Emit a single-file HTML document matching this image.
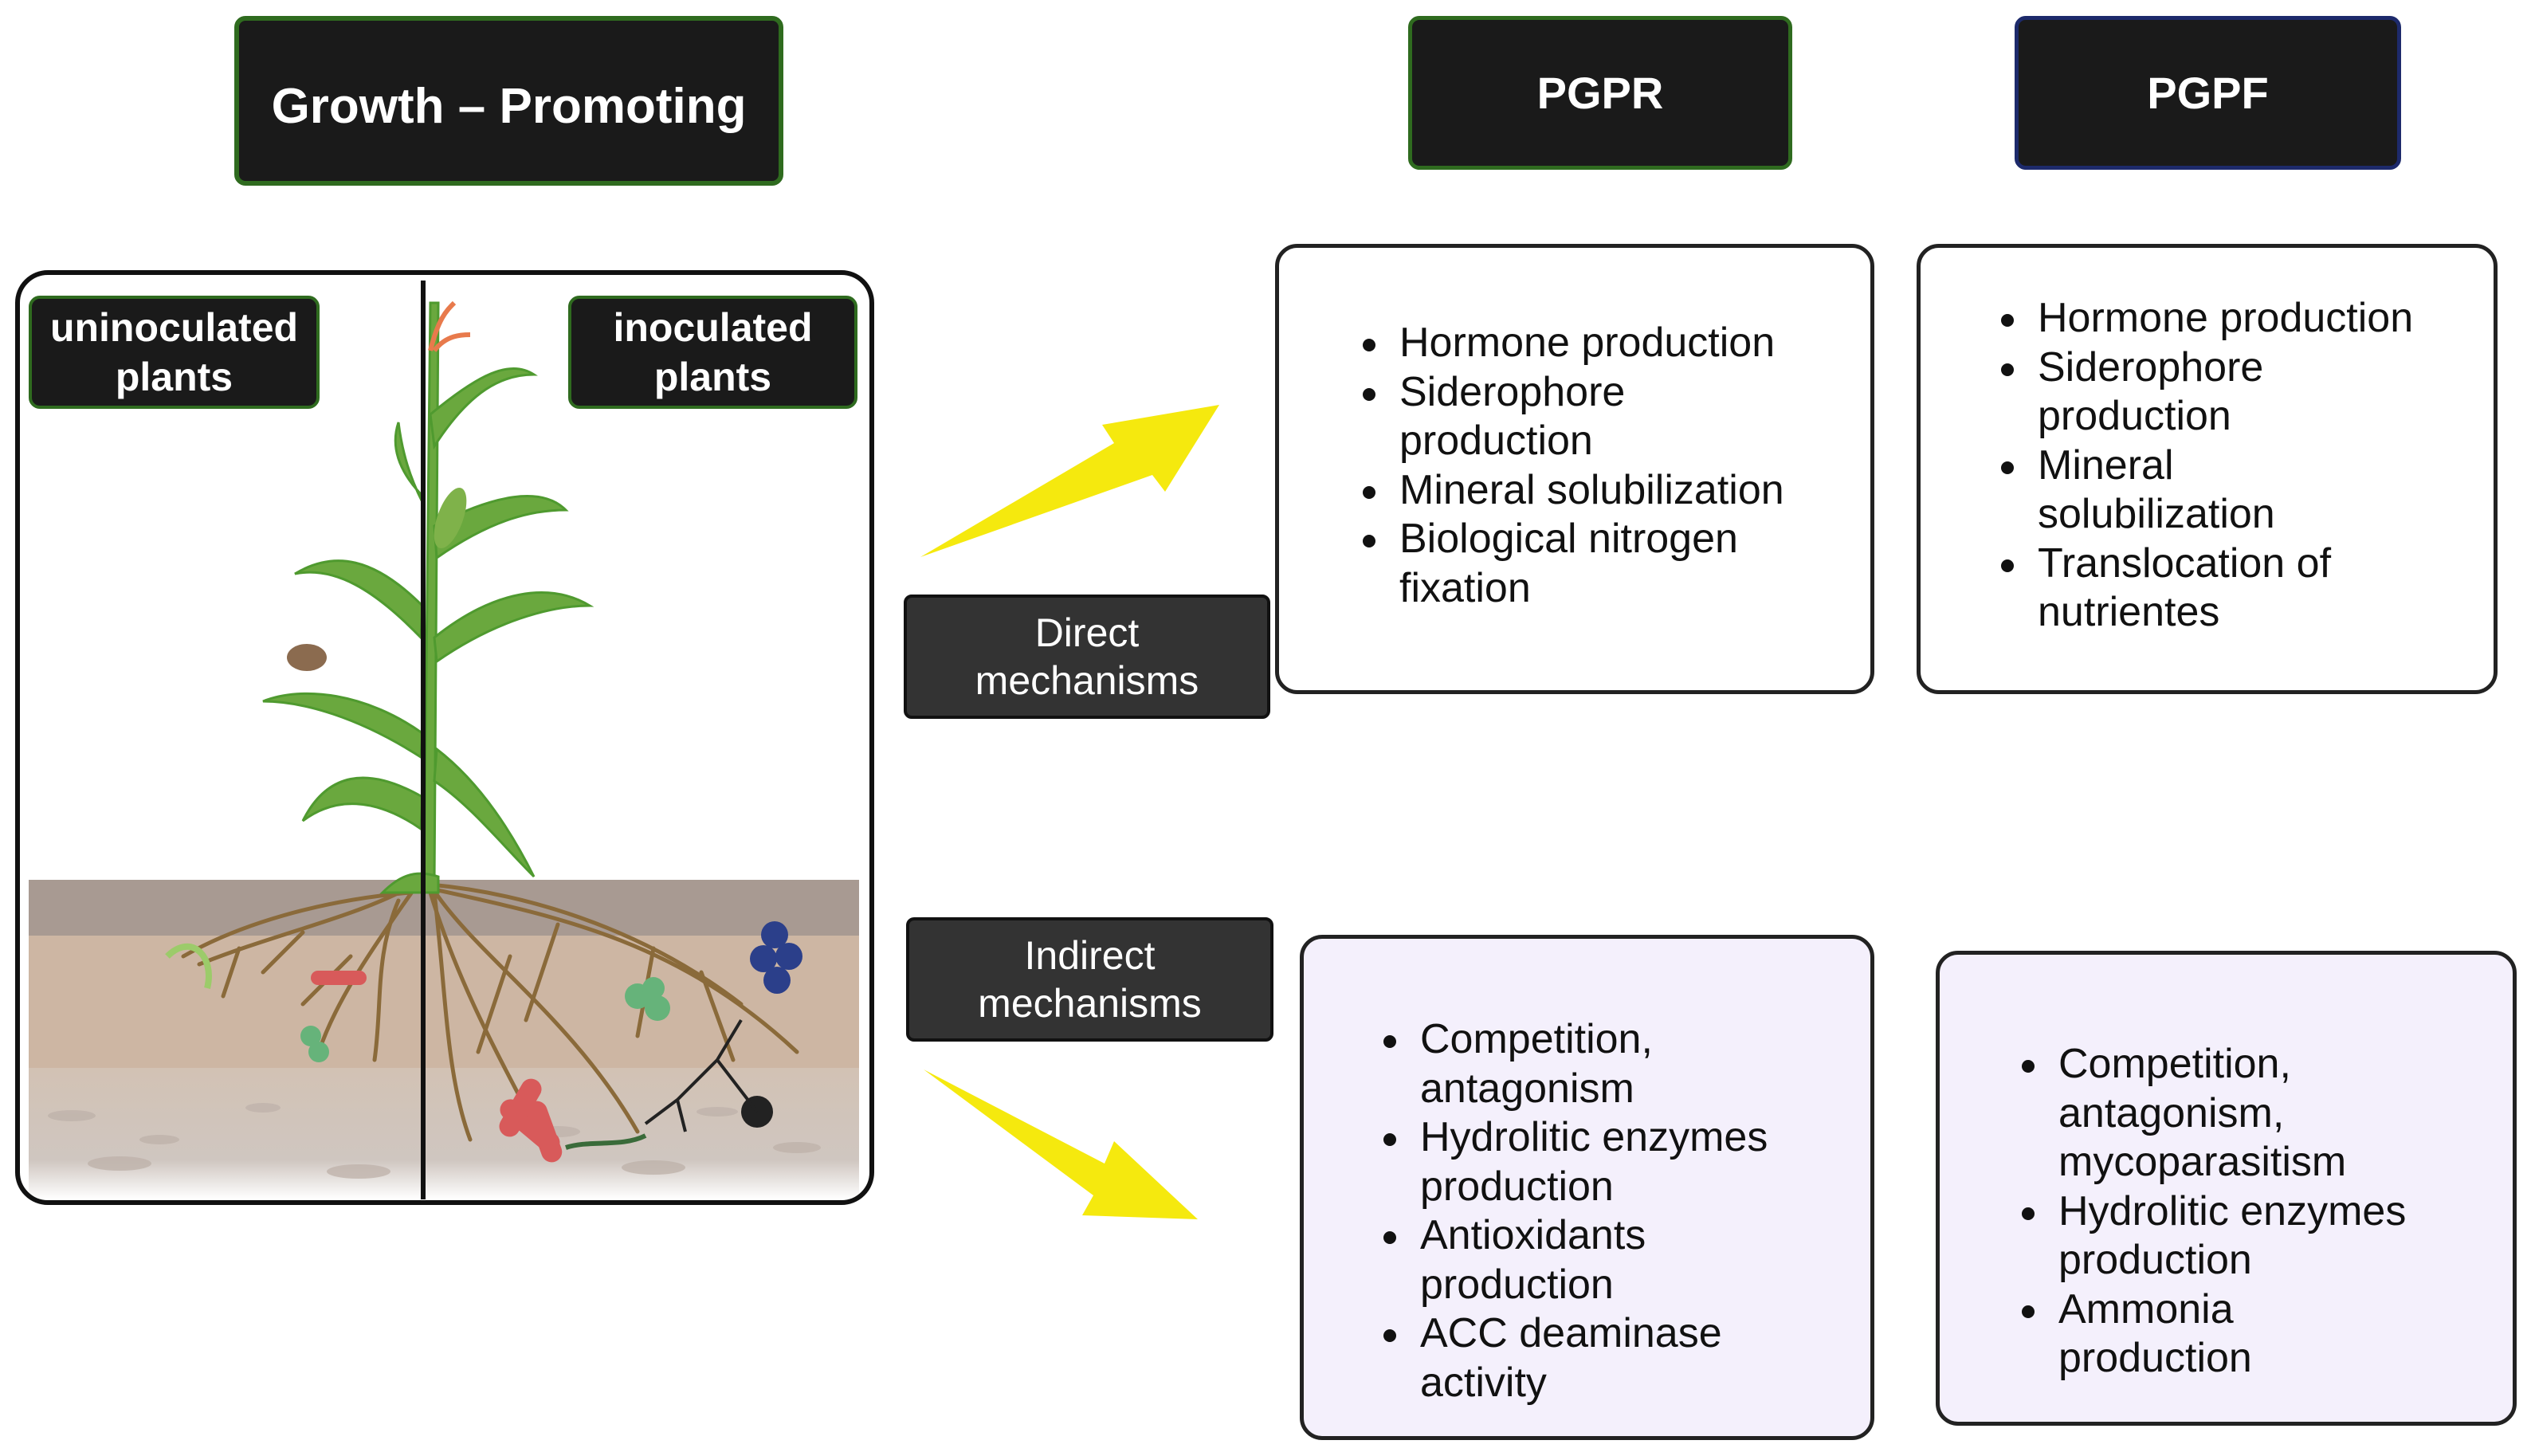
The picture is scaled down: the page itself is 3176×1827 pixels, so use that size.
<!DOCTYPE html>
<html><head><meta charset="utf-8"><style>
*{margin:0;padding:0;box-sizing:border-box}
body{width:3176px;height:1827px;background:#fff;position:relative;overflow:hidden;font-family:"Liberation Sans",sans-serif}
.a{position:absolute}
.hdr{background:#1a1a1a;color:#fff;font-weight:bold;display:flex;align-items:center;justify-content:center;text-align:center;border-radius:14px}
.mech{background:#333;color:#fff;border:4px solid #111;border-radius:10px;display:flex;align-items:center;justify-content:center;text-align:center;font-size:50px;line-height:60px}
.box{border:5px solid #222;border-radius:28px;background:#fff}
.lst{position:absolute;font-size:52px;line-height:61.5px;color:#111}
.lst div{position:relative;padding-left:46px}
.lst div.b::before{content:"";position:absolute;left:0;top:25px;width:16px;height:16px;border-radius:50%;background:#111}
</style></head><body>

<div class="a hdr" style="left:294px;top:20px;width:689px;height:213px;border:6px solid #2f6b1f;font-size:62px;padding-top:14px">Growth – Promoting</div>
<div class="a hdr" style="left:1767px;top:20px;width:482px;height:193px;border:5px solid #2f6b1f;font-size:56px">PGPR</div>
<div class="a hdr" style="left:2528px;top:20px;width:485px;height:193px;border:5px solid #1d2a6b;font-size:56px">PGPF</div>

<!-- plant panel -->
<svg class="a" style="left:0;top:0" width="1110" height="1527" viewBox="0 0 1110 1527">
<defs><linearGradient id="f" x1="0" y1="0" x2="0" y2="1"><stop offset="0" stop-color="#d2c2b4"/><stop offset="0.7" stop-color="#cfc6c0"/><stop offset="1" stop-color="#fff"/></linearGradient></defs>
<rect x="36" y="1104" width="1042" height="70" fill="#a89a92"/>
<rect x="36" y="1174" width="1042" height="166" fill="#cdb6a3"/>
<rect x="36" y="1340" width="1042" height="165" fill="url(#f)"/>
<g fill="#bfb3ab" opacity="0.8">
<ellipse cx="90" cy="1400" rx="30" ry="7"/><ellipse cx="200" cy="1430" rx="25" ry="6"/><ellipse cx="330" cy="1390" rx="22" ry="6"/><ellipse cx="700" cy="1420" rx="28" ry="7"/><ellipse cx="900" cy="1395" rx="26" ry="6"/><ellipse cx="1000" cy="1440" rx="30" ry="7"/><ellipse cx="150" cy="1460" rx="40" ry="9"/><ellipse cx="450" cy="1470" rx="40" ry="9"/><ellipse cx="820" cy="1465" rx="40" ry="9"/></g>
<g stroke="#8a6a3a" stroke-width="5" fill="none" stroke-linecap="round">
<path d="M520 1110 C450 1150 350 1170 250 1210"/><path d="M520 1115 C460 1200 420 1260 400 1320"/><path d="M500 1130 C470 1200 480 1260 470 1330"/><path d="M515 1120 C400 1130 300 1160 230 1200"/><path d="M380 1170 L330 1220"/><path d="M440 1200 L380 1260"/><path d="M300 1190 L280 1250"/>
<path d="M540 1110 C650 1120 800 1160 930 1260"/><path d="M540 1115 C700 1150 850 1180 1000 1320"/><path d="M540 1120 C580 1250 640 1350 680 1430"/><path d="M545 1118 C600 1200 720 1280 800 1420"/><path d="M545 1120 C560 1250 560 1350 590 1430"/><path d="M700 1160 L660 1280"/><path d="M820 1190 L800 1300"/><path d="M880 1220 L920 1330"/><path d="M640 1200 L600 1320"/></g>
<g stroke="#4f9a2f" fill="#6aa83e" stroke-width="3">
<path d="M532 1110 L540 380 L550 380 L545 1110 Z"/>
<path d="M540 520 C600 470 640 450 670 470 C630 470 590 490 545 560Z"/>
<path d="M545 660 C620 620 680 610 710 640 C670 640 620 650 548 700Z"/>
<path d="M545 800 C620 740 690 730 740 760 C690 760 620 780 548 830Z"/>
<path d="M548 940 C600 980 640 1040 670 1100 C630 1060 590 1010 545 980Z"/>
<path d="M530 760 C470 700 420 690 370 720 C420 710 470 740 528 800Z"/>
<path d="M530 920 C460 870 380 860 330 880 C380 880 450 900 528 950Z"/>
<path d="M530 1000 C460 960 410 970 380 1030 C420 1000 470 1000 528 1040Z"/>
<path d="M528 620 C500 590 490 560 500 530 C505 570 515 600 530 630Z"/>
<path d="M550 1100 C520 1090 500 1100 480 1120 L550 1120Z"/></g>
<ellipse cx="565" cy="650" rx="16" ry="40" fill="#7fb24a" transform="rotate(20 565 650)"/>
<path d="M540 440 C550 400 560 390 570 380 M545 440 C560 420 580 420 590 420" stroke="#e87a4c" stroke-width="6" fill="none"/>
<ellipse cx="385" cy="825" rx="25" ry="17" fill="#8b6b4f"/>
<g fill="#66b37a"><circle cx="390" cy="1300" r="13"/><circle cx="400" cy="1320" r="13"/><circle cx="800" cy="1250" r="16"/><circle cx="825" cy="1265" r="16"/><circle cx="820" cy="1240" r="14"/></g>
<rect x="390" y="1218" width="70" height="18" rx="9" fill="#d85a5a"/>
<g fill="#d85a5a"><rect x="620" y="1400" width="90" height="26" rx="13" transform="rotate(40 665 1413)"/><rect x="670" y="1380" width="26" height="80" rx="13" transform="rotate(-20 683 1420)"/><rect x="640" y="1350" width="26" height="80" rx="13" transform="rotate(30 653 1390)"/></g>
<g fill="#2b3f8a"><circle cx="972" cy="1173" r="17"/><circle cx="958" cy="1203" r="17"/><circle cx="990" cy="1200" r="17"/><circle cx="975" cy="1230" r="17"/></g>
<circle cx="950" cy="1395" r="20" fill="#222"/>
<path d="M950 1395 L900 1330 L930 1280 M900 1330 L850 1380 L810 1410 M850 1380 L860 1420" stroke="#222" stroke-width="4" fill="none"/>
<path d="M710 1440 C740 1430 780 1440 810 1425" stroke="#3a6b3a" stroke-width="6" fill="none"/>
<path d="M210 1200 C240 1170 270 1200 260 1240" stroke="#9ccb6a" stroke-width="8" fill="none"/>
<rect x="22" y="342" width="1072" height="1167" rx="38" fill="none" stroke="#111" stroke-width="6"/>
<line x1="531" y1="352" x2="531" y2="1505" stroke="#111" stroke-width="6"/>
</svg>
<div class="a hdr" style="left:36px;top:371px;width:365px;height:142px;border:4px solid #2f6b1f;font-size:50px;line-height:62px">uninoculated<br>plants</div>
<div class="a hdr" style="left:713px;top:371px;width:363px;height:142px;border:4px solid #2f6b1f;font-size:50px;line-height:62px">inoculated<br>plants</div>

<!-- arrows -->
<svg class="a" style="left:0;top:0" width="3176" height="1827">
<polygon points="1155,699 1398,556 1383,533 1530,508 1462,617 1446,596" fill="#f5e90e"/>
<polygon points="1159,1342 1386,1460 1398,1432 1503,1530 1358,1525 1372,1500" fill="#f5e90e"/>
</svg>

<div class="a mech" style="left:1134px;top:746px;width:460px;height:156px">Direct<br>mechanisms</div>
<div class="a mech" style="left:1137px;top:1151px;width:461px;height:156px">Indirect<br>mechanisms</div>

<div class="a box" style="left:1600px;top:306px;width:752px;height:565px"></div>
<div class="lst" style="left:1710px;top:400px"><div class="b">Hormone production</div><div class="b">Siderophore</div><div>production</div><div class="b">Mineral solubilization</div><div class="b">Biological nitrogen</div><div>fixation</div></div>

<div class="a box" style="left:2405px;top:306px;width:729px;height:565px"></div>
<div class="lst" style="left:2511px;top:369px"><div class="b">Hormone production</div><div class="b">Siderophore</div><div>production</div><div class="b">Mineral</div><div>solubilization</div><div class="b">Translocation of</div><div>nutrientes</div></div>

<div class="a box" style="left:1631px;top:1173px;width:721px;height:634px;background:#f4f0fc"></div>
<div class="lst" style="left:1736px;top:1274px"><div class="b">Competition,</div><div>antagonism</div><div class="b">Hydrolitic enzymes</div><div>production</div><div class="b">Antioxidants</div><div>production</div><div class="b">ACC deaminase</div><div>activity</div></div>

<div class="a box" style="left:2429px;top:1193px;width:729px;height:596px;background:#f4f0fc"></div>
<div class="lst" style="left:2537px;top:1305px"><div class="b">Competition,</div><div>antagonism,</div><div>mycoparasitism</div><div class="b">Hydrolitic enzymes</div><div>production</div><div class="b">Ammonia</div><div>production</div></div>

</body></html>
